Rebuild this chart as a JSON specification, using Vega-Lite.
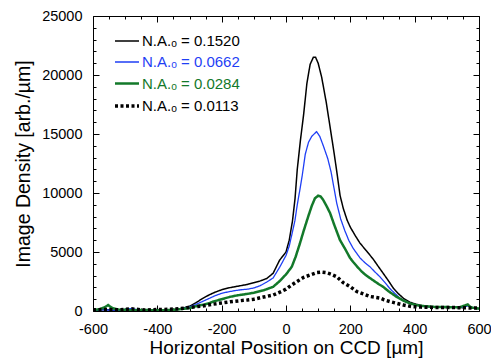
{
  "$schema": "https://vega.github.io/schema/vega-lite/v6.json",
  "width": 386,
  "height": 295,
  "autosize": {"type": "none"},
  "padding": {"left": 93, "top": 16, "right": 12, "bottom": 49},
  "background": "white",
  "config": {
    "font": "Liberation Sans",
    "view": {"stroke": "black", "strokeWidth": 1},
    "axis": {
      "domain": false,
      "grid": false,
      "labelFont": "Liberation Sans",
      "labelFontSize": 14.5,
      "labelColor": "black",
      "titleFont": "Liberation Sans",
      "titleFontWeight": "normal",
      "titleColor": "black",
      "tickColor": "black",
      "labelOverlap": false,
      "labelFlush": false
    },
    "legend": {
      "labelFont": "Liberation Sans",
      "labelFontSize": 15
    }
  },
  "data": {
    "values": [
      {"s": "N.A.ₒ = 0.1520", "x": -600, "y": 50},
      {"s": "N.A.ₒ = 0.1520", "x": -580, "y": 80},
      {"s": "N.A.ₒ = 0.1520", "x": -560, "y": 120},
      {"s": "N.A.ₒ = 0.1520", "x": -540, "y": 60},
      {"s": "N.A.ₒ = 0.1520", "x": -520, "y": 40},
      {"s": "N.A.ₒ = 0.1520", "x": -500, "y": 90},
      {"s": "N.A.ₒ = 0.1520", "x": -480, "y": 60},
      {"s": "N.A.ₒ = 0.1520", "x": -460, "y": 30},
      {"s": "N.A.ₒ = 0.1520", "x": -440, "y": 70},
      {"s": "N.A.ₒ = 0.1520", "x": -420, "y": 50},
      {"s": "N.A.ₒ = 0.1520", "x": -400, "y": 60},
      {"s": "N.A.ₒ = 0.1520", "x": -380, "y": 80},
      {"s": "N.A.ₒ = 0.1520", "x": -360, "y": 100},
      {"s": "N.A.ₒ = 0.1520", "x": -340, "y": 150},
      {"s": "N.A.ₒ = 0.1520", "x": -320, "y": 250},
      {"s": "N.A.ₒ = 0.1520", "x": -300, "y": 400},
      {"s": "N.A.ₒ = 0.1520", "x": -280, "y": 700},
      {"s": "N.A.ₒ = 0.1520", "x": -260, "y": 1050},
      {"s": "N.A.ₒ = 0.1520", "x": -240, "y": 1350},
      {"s": "N.A.ₒ = 0.1520", "x": -220, "y": 1600},
      {"s": "N.A.ₒ = 0.1520", "x": -200, "y": 1800},
      {"s": "N.A.ₒ = 0.1520", "x": -180, "y": 1950},
      {"s": "N.A.ₒ = 0.1520", "x": -160, "y": 2050},
      {"s": "N.A.ₒ = 0.1520", "x": -140, "y": 2150},
      {"s": "N.A.ₒ = 0.1520", "x": -120, "y": 2250},
      {"s": "N.A.ₒ = 0.1520", "x": -100, "y": 2400},
      {"s": "N.A.ₒ = 0.1520", "x": -80, "y": 2550},
      {"s": "N.A.ₒ = 0.1520", "x": -60, "y": 2750},
      {"s": "N.A.ₒ = 0.1520", "x": -40, "y": 3200},
      {"s": "N.A.ₒ = 0.1520", "x": -20, "y": 4300},
      {"s": "N.A.ₒ = 0.1520", "x": 0, "y": 5000},
      {"s": "N.A.ₒ = 0.1520", "x": 10, "y": 6000},
      {"s": "N.A.ₒ = 0.1520", "x": 20, "y": 7600},
      {"s": "N.A.ₒ = 0.1520", "x": 28, "y": 9500},
      {"s": "N.A.ₒ = 0.1520", "x": 35, "y": 12000},
      {"s": "N.A.ₒ = 0.1520", "x": 45, "y": 14500},
      {"s": "N.A.ₒ = 0.1520", "x": 55, "y": 16700},
      {"s": "N.A.ₒ = 0.1520", "x": 65, "y": 19300},
      {"s": "N.A.ₒ = 0.1520", "x": 75, "y": 20900},
      {"s": "N.A.ₒ = 0.1520", "x": 85, "y": 21500},
      {"s": "N.A.ₒ = 0.1520", "x": 92, "y": 21500},
      {"s": "N.A.ₒ = 0.1520", "x": 100, "y": 21000},
      {"s": "N.A.ₒ = 0.1520", "x": 111, "y": 19800},
      {"s": "N.A.ₒ = 0.1520", "x": 125, "y": 17700},
      {"s": "N.A.ₒ = 0.1520", "x": 137, "y": 15600},
      {"s": "N.A.ₒ = 0.1520", "x": 150, "y": 13300},
      {"s": "N.A.ₒ = 0.1520", "x": 160, "y": 11400},
      {"s": "N.A.ₒ = 0.1520", "x": 168, "y": 9800},
      {"s": "N.A.ₒ = 0.1520", "x": 178, "y": 8700},
      {"s": "N.A.ₒ = 0.1520", "x": 190, "y": 7700},
      {"s": "N.A.ₒ = 0.1520", "x": 200, "y": 7100},
      {"s": "N.A.ₒ = 0.1520", "x": 215, "y": 6400},
      {"s": "N.A.ₒ = 0.1520", "x": 230, "y": 5750},
      {"s": "N.A.ₒ = 0.1520", "x": 250, "y": 5100},
      {"s": "N.A.ₒ = 0.1520", "x": 271, "y": 4400},
      {"s": "N.A.ₒ = 0.1520", "x": 285, "y": 3850},
      {"s": "N.A.ₒ = 0.1520", "x": 302, "y": 3200},
      {"s": "N.A.ₒ = 0.1520", "x": 320, "y": 2500},
      {"s": "N.A.ₒ = 0.1520", "x": 334, "y": 1920},
      {"s": "N.A.ₒ = 0.1520", "x": 350, "y": 1450},
      {"s": "N.A.ₒ = 0.1520", "x": 365, "y": 1080},
      {"s": "N.A.ₒ = 0.1520", "x": 385, "y": 750},
      {"s": "N.A.ₒ = 0.1520", "x": 406, "y": 560},
      {"s": "N.A.ₒ = 0.1520", "x": 430, "y": 400},
      {"s": "N.A.ₒ = 0.1520", "x": 460, "y": 330},
      {"s": "N.A.ₒ = 0.1520", "x": 490, "y": 300},
      {"s": "N.A.ₒ = 0.1520", "x": 520, "y": 320},
      {"s": "N.A.ₒ = 0.1520", "x": 550, "y": 280},
      {"s": "N.A.ₒ = 0.1520", "x": 565, "y": 500},
      {"s": "N.A.ₒ = 0.1520", "x": 575, "y": 250},
      {"s": "N.A.ₒ = 0.1520", "x": 600, "y": 200},

      {"s": "N.A.ₒ = 0.0662", "x": -600, "y": 60},
      {"s": "N.A.ₒ = 0.0662", "x": -570, "y": 100},
      {"s": "N.A.ₒ = 0.0662", "x": -540, "y": 70},
      {"s": "N.A.ₒ = 0.0662", "x": -510, "y": 90},
      {"s": "N.A.ₒ = 0.0662", "x": -480, "y": 220},
      {"s": "N.A.ₒ = 0.0662", "x": -460, "y": 80},
      {"s": "N.A.ₒ = 0.0662", "x": -430, "y": 60},
      {"s": "N.A.ₒ = 0.0662", "x": -400, "y": 80},
      {"s": "N.A.ₒ = 0.0662", "x": -370, "y": 90},
      {"s": "N.A.ₒ = 0.0662", "x": -340, "y": 120},
      {"s": "N.A.ₒ = 0.0662", "x": -320, "y": 200},
      {"s": "N.A.ₒ = 0.0662", "x": -300, "y": 350},
      {"s": "N.A.ₒ = 0.0662", "x": -280, "y": 550},
      {"s": "N.A.ₒ = 0.0662", "x": -260, "y": 800},
      {"s": "N.A.ₒ = 0.0662", "x": -240, "y": 1050},
      {"s": "N.A.ₒ = 0.0662", "x": -220, "y": 1300},
      {"s": "N.A.ₒ = 0.0662", "x": -200, "y": 1500},
      {"s": "N.A.ₒ = 0.0662", "x": -180, "y": 1620},
      {"s": "N.A.ₒ = 0.0662", "x": -160, "y": 1720},
      {"s": "N.A.ₒ = 0.0662", "x": -140, "y": 1800},
      {"s": "N.A.ₒ = 0.0662", "x": -120, "y": 1850},
      {"s": "N.A.ₒ = 0.0662", "x": -100, "y": 1950},
      {"s": "N.A.ₒ = 0.0662", "x": -80, "y": 2150},
      {"s": "N.A.ₒ = 0.0662", "x": -60, "y": 2450},
      {"s": "N.A.ₒ = 0.0662", "x": -40, "y": 2800},
      {"s": "N.A.ₒ = 0.0662", "x": -20, "y": 3700},
      {"s": "N.A.ₒ = 0.0662", "x": 0, "y": 4700},
      {"s": "N.A.ₒ = 0.0662", "x": 10, "y": 5500},
      {"s": "N.A.ₒ = 0.0662", "x": 20, "y": 6700},
      {"s": "N.A.ₒ = 0.0662", "x": 28, "y": 7700},
      {"s": "N.A.ₒ = 0.0662", "x": 35, "y": 9000},
      {"s": "N.A.ₒ = 0.0662", "x": 43, "y": 10250},
      {"s": "N.A.ₒ = 0.0662", "x": 50, "y": 11400},
      {"s": "N.A.ₒ = 0.0662", "x": 60, "y": 13300},
      {"s": "N.A.ₒ = 0.0662", "x": 70, "y": 14300},
      {"s": "N.A.ₒ = 0.0662", "x": 80, "y": 14800},
      {"s": "N.A.ₒ = 0.0662", "x": 95, "y": 15200},
      {"s": "N.A.ₒ = 0.0662", "x": 105, "y": 14800},
      {"s": "N.A.ₒ = 0.0662", "x": 116, "y": 14000},
      {"s": "N.A.ₒ = 0.0662", "x": 130, "y": 12900},
      {"s": "N.A.ₒ = 0.0662", "x": 140, "y": 11800},
      {"s": "N.A.ₒ = 0.0662", "x": 150, "y": 10300},
      {"s": "N.A.ₒ = 0.0662", "x": 158, "y": 9100},
      {"s": "N.A.ₒ = 0.0662", "x": 170, "y": 7800},
      {"s": "N.A.ₒ = 0.0662", "x": 183, "y": 6800},
      {"s": "N.A.ₒ = 0.0662", "x": 195, "y": 6000},
      {"s": "N.A.ₒ = 0.0662", "x": 209, "y": 5300},
      {"s": "N.A.ₒ = 0.0662", "x": 230, "y": 4500},
      {"s": "N.A.ₒ = 0.0662", "x": 245, "y": 4100},
      {"s": "N.A.ₒ = 0.0662", "x": 261, "y": 3750},
      {"s": "N.A.ₒ = 0.0662", "x": 275, "y": 3350},
      {"s": "N.A.ₒ = 0.0662", "x": 292, "y": 2900},
      {"s": "N.A.ₒ = 0.0662", "x": 308, "y": 2400},
      {"s": "N.A.ₒ = 0.0662", "x": 323, "y": 1900},
      {"s": "N.A.ₒ = 0.0662", "x": 340, "y": 1450},
      {"s": "N.A.ₒ = 0.0662", "x": 354, "y": 1080},
      {"s": "N.A.ₒ = 0.0662", "x": 375, "y": 750},
      {"s": "N.A.ₒ = 0.0662", "x": 396, "y": 560},
      {"s": "N.A.ₒ = 0.0662", "x": 420, "y": 420},
      {"s": "N.A.ₒ = 0.0662", "x": 450, "y": 350},
      {"s": "N.A.ₒ = 0.0662", "x": 480, "y": 330},
      {"s": "N.A.ₒ = 0.0662", "x": 520, "y": 320},
      {"s": "N.A.ₒ = 0.0662", "x": 550, "y": 300},
      {"s": "N.A.ₒ = 0.0662", "x": 565, "y": 450},
      {"s": "N.A.ₒ = 0.0662", "x": 580, "y": 280},
      {"s": "N.A.ₒ = 0.0662", "x": 600, "y": 200},

      {"s": "N.A.ₒ = 0.0284", "x": -600, "y": 80},
      {"s": "N.A.ₒ = 0.0284", "x": -580, "y": 150},
      {"s": "N.A.ₒ = 0.0284", "x": -565, "y": 300},
      {"s": "N.A.ₒ = 0.0284", "x": -553, "y": 500},
      {"s": "N.A.ₒ = 0.0284", "x": -540, "y": 250},
      {"s": "N.A.ₒ = 0.0284", "x": -520, "y": 120},
      {"s": "N.A.ₒ = 0.0284", "x": -500, "y": 100},
      {"s": "N.A.ₒ = 0.0284", "x": -480, "y": 60},
      {"s": "N.A.ₒ = 0.0284", "x": -450, "y": 90},
      {"s": "N.A.ₒ = 0.0284", "x": -420, "y": 70},
      {"s": "N.A.ₒ = 0.0284", "x": -390, "y": 60},
      {"s": "N.A.ₒ = 0.0284", "x": -360, "y": 80},
      {"s": "N.A.ₒ = 0.0284", "x": -340, "y": 120},
      {"s": "N.A.ₒ = 0.0284", "x": -320, "y": 180},
      {"s": "N.A.ₒ = 0.0284", "x": -300, "y": 250},
      {"s": "N.A.ₒ = 0.0284", "x": -280, "y": 400},
      {"s": "N.A.ₒ = 0.0284", "x": -260, "y": 520},
      {"s": "N.A.ₒ = 0.0284", "x": -240, "y": 650},
      {"s": "N.A.ₒ = 0.0284", "x": -226, "y": 800},
      {"s": "N.A.ₒ = 0.0284", "x": -200, "y": 1000},
      {"s": "N.A.ₒ = 0.0284", "x": -174, "y": 1200},
      {"s": "N.A.ₒ = 0.0284", "x": -150, "y": 1330},
      {"s": "N.A.ₒ = 0.0284", "x": -120, "y": 1450},
      {"s": "N.A.ₒ = 0.0284", "x": -100, "y": 1550},
      {"s": "N.A.ₒ = 0.0284", "x": -70, "y": 1750},
      {"s": "N.A.ₒ = 0.0284", "x": -40, "y": 2050},
      {"s": "N.A.ₒ = 0.0284", "x": -19, "y": 2550},
      {"s": "N.A.ₒ = 0.0284", "x": 0, "y": 3100},
      {"s": "N.A.ₒ = 0.0284", "x": 18, "y": 3750},
      {"s": "N.A.ₒ = 0.0284", "x": 30, "y": 4600},
      {"s": "N.A.ₒ = 0.0284", "x": 43, "y": 5700},
      {"s": "N.A.ₒ = 0.0284", "x": 55, "y": 6800},
      {"s": "N.A.ₒ = 0.0284", "x": 69, "y": 8000},
      {"s": "N.A.ₒ = 0.0284", "x": 80, "y": 8900},
      {"s": "N.A.ₒ = 0.0284", "x": 90, "y": 9550},
      {"s": "N.A.ₒ = 0.0284", "x": 100, "y": 9770},
      {"s": "N.A.ₒ = 0.0284", "x": 108, "y": 9700},
      {"s": "N.A.ₒ = 0.0284", "x": 116, "y": 9400},
      {"s": "N.A.ₒ = 0.0284", "x": 126, "y": 8900},
      {"s": "N.A.ₒ = 0.0284", "x": 137, "y": 8300},
      {"s": "N.A.ₒ = 0.0284", "x": 150, "y": 7300},
      {"s": "N.A.ₒ = 0.0284", "x": 168, "y": 6000},
      {"s": "N.A.ₒ = 0.0284", "x": 183, "y": 5300},
      {"s": "N.A.ₒ = 0.0284", "x": 199, "y": 4500},
      {"s": "N.A.ₒ = 0.0284", "x": 209, "y": 4150},
      {"s": "N.A.ₒ = 0.0284", "x": 220, "y": 3800},
      {"s": "N.A.ₒ = 0.0284", "x": 235, "y": 3350},
      {"s": "N.A.ₒ = 0.0284", "x": 250, "y": 3000},
      {"s": "N.A.ₒ = 0.0284", "x": 271, "y": 2600},
      {"s": "N.A.ₒ = 0.0284", "x": 290, "y": 2250},
      {"s": "N.A.ₒ = 0.0284", "x": 302, "y": 2050},
      {"s": "N.A.ₒ = 0.0284", "x": 320, "y": 1650},
      {"s": "N.A.ₒ = 0.0284", "x": 344, "y": 1200},
      {"s": "N.A.ₒ = 0.0284", "x": 365, "y": 880},
      {"s": "N.A.ₒ = 0.0284", "x": 385, "y": 650},
      {"s": "N.A.ₒ = 0.0284", "x": 405, "y": 500},
      {"s": "N.A.ₒ = 0.0284", "x": 427, "y": 420},
      {"s": "N.A.ₒ = 0.0284", "x": 460, "y": 350},
      {"s": "N.A.ₒ = 0.0284", "x": 500, "y": 330},
      {"s": "N.A.ₒ = 0.0284", "x": 540, "y": 320},
      {"s": "N.A.ₒ = 0.0284", "x": 565, "y": 550},
      {"s": "N.A.ₒ = 0.0284", "x": 575, "y": 300},
      {"s": "N.A.ₒ = 0.0284", "x": 600, "y": 200},

      {"s": "N.A.ₒ = 0.0113", "x": -600, "y": 100},
      {"s": "N.A.ₒ = 0.0113", "x": -560, "y": 130},
      {"s": "N.A.ₒ = 0.0113", "x": -520, "y": 100},
      {"s": "N.A.ₒ = 0.0113", "x": -480, "y": 180},
      {"s": "N.A.ₒ = 0.0113", "x": -440, "y": 80},
      {"s": "N.A.ₒ = 0.0113", "x": -400, "y": 120},
      {"s": "N.A.ₒ = 0.0113", "x": -360, "y": 150},
      {"s": "N.A.ₒ = 0.0113", "x": -330, "y": 200},
      {"s": "N.A.ₒ = 0.0113", "x": -300, "y": 300},
      {"s": "N.A.ₒ = 0.0113", "x": -260, "y": 420},
      {"s": "N.A.ₒ = 0.0113", "x": -226, "y": 580},
      {"s": "N.A.ₒ = 0.0113", "x": -200, "y": 680},
      {"s": "N.A.ₒ = 0.0113", "x": -174, "y": 780},
      {"s": "N.A.ₒ = 0.0113", "x": -140, "y": 880},
      {"s": "N.A.ₒ = 0.0113", "x": -120, "y": 930},
      {"s": "N.A.ₒ = 0.0113", "x": -100, "y": 1000},
      {"s": "N.A.ₒ = 0.0113", "x": -70, "y": 1180},
      {"s": "N.A.ₒ = 0.0113", "x": -40, "y": 1350},
      {"s": "N.A.ₒ = 0.0113", "x": -19, "y": 1600},
      {"s": "N.A.ₒ = 0.0113", "x": 0, "y": 1850},
      {"s": "N.A.ₒ = 0.0113", "x": 15, "y": 2150},
      {"s": "N.A.ₒ = 0.0113", "x": 33, "y": 2480},
      {"s": "N.A.ₒ = 0.0113", "x": 55, "y": 2850},
      {"s": "N.A.ₒ = 0.0113", "x": 75, "y": 3050},
      {"s": "N.A.ₒ = 0.0113", "x": 95, "y": 3250},
      {"s": "N.A.ₒ = 0.0113", "x": 110, "y": 3300},
      {"s": "N.A.ₒ = 0.0113", "x": 126, "y": 3250},
      {"s": "N.A.ₒ = 0.0113", "x": 140, "y": 3120},
      {"s": "N.A.ₒ = 0.0113", "x": 158, "y": 2900},
      {"s": "N.A.ₒ = 0.0113", "x": 178, "y": 2400},
      {"s": "N.A.ₒ = 0.0113", "x": 200, "y": 2050},
      {"s": "N.A.ₒ = 0.0113", "x": 220, "y": 1650},
      {"s": "N.A.ₒ = 0.0113", "x": 240, "y": 1450},
      {"s": "N.A.ₒ = 0.0113", "x": 261, "y": 1230},
      {"s": "N.A.ₒ = 0.0113", "x": 280, "y": 1150},
      {"s": "N.A.ₒ = 0.0113", "x": 292, "y": 1100},
      {"s": "N.A.ₒ = 0.0113", "x": 305, "y": 950},
      {"s": "N.A.ₒ = 0.0113", "x": 323, "y": 800},
      {"s": "N.A.ₒ = 0.0113", "x": 345, "y": 650},
      {"s": "N.A.ₒ = 0.0113", "x": 365, "y": 510},
      {"s": "N.A.ₒ = 0.0113", "x": 390, "y": 380},
      {"s": "N.A.ₒ = 0.0113", "x": 420, "y": 330},
      {"s": "N.A.ₒ = 0.0113", "x": 460, "y": 300},
      {"s": "N.A.ₒ = 0.0113", "x": 500, "y": 300},
      {"s": "N.A.ₒ = 0.0113", "x": 540, "y": 280},
      {"s": "N.A.ₒ = 0.0113", "x": 580, "y": 250},
      {"s": "N.A.ₒ = 0.0113", "x": 600, "y": 250}
    ]
  },
  "layer": [
    {
      "mark": {"type": "line", "clip": true},
      "encoding": {
        "x": {
          "field": "x", "type": "quantitative",
          "scale": {"domain": [-600, 600], "nice": false, "zero": false},
          "axis": {
            "title": "Horizontal Position on CCD [µm]",
            "titleFontSize": 19,
            "values": [-600,-550,-500,-450,-400,-350,-300,-250,-200,-150,-100,-50,0,50,100,150,200,250,300,350,400,450,500,550,600],
            "labelExpr": "datum.value % 200 == 0 ? '' + datum.value : ''",
            "tickSize": {"condition": {"test": "datum.value % 200 == 0", "value": -6}, "value": -3},
            "labelPadding": 17,
            "titlePadding": 0
          }
        },
        "y": {
          "field": "y", "type": "quantitative",
          "scale": {"domain": [0, 25000], "nice": false},
          "axis": {
            "title": "Image Density [arb./µm]",
            "titleFontSize": 19.5,
            "values": [0,1000,2000,3000,4000,5000,6000,7000,8000,9000,10000,11000,12000,13000,14000,15000,16000,17000,18000,19000,20000,21000,22000,23000,24000,25000],
            "labelExpr": "datum.value % 5000 == 0 ? '' + datum.value : ''",
            "tickSize": {"condition": {"test": "datum.value % 5000 == 0", "value": -6}, "value": -3},
            "labelPadding": 17,
            "titlePadding": 8
          }
        },
        "color": {
          "field": "s", "type": "nominal",
          "scale": {
            "domain": ["N.A.ₒ = 0.1520", "N.A.ₒ = 0.0662", "N.A.ₒ = 0.0284", "N.A.ₒ = 0.0113"],
            "range": ["#000000", "#1f3ff5", "#13792a", "#000000"]
          },
          "legend": {
            "title": null,
            "orient": "none",
            "legendX": 20,
            "legendY": 12,
            "symbolType": "stroke",
            "symbolSize": 576,
            "labelOffset": 1,
            "rowPadding": -3,
            "padding": 0,
            "encode": {"labels": {"update": {"fill": {"scale": "color", "field": "value"}}}}
          }
        },
        "strokeDash": {
          "field": "s", "type": "nominal",
          "scale": {
            "domain": ["N.A.ₒ = 0.1520", "N.A.ₒ = 0.0662", "N.A.ₒ = 0.0284", "N.A.ₒ = 0.0113"],
            "range": [[1, 0], [1, 0], [1, 0], [3, 2.5]]
          },
          "legend": {"title": null}
        },
        "strokeWidth": {
          "field": "s", "type": "nominal",
          "scale": {
            "type": "ordinal",
            "domain": ["N.A.ₒ = 0.1520", "N.A.ₒ = 0.0662", "N.A.ₒ = 0.0284", "N.A.ₒ = 0.0113"],
            "range": [1.5, 1.3, 2.5, 3.5]
          },
          "legend": {"title": null}
        },
        "order": {"field": "x", "type": "quantitative"}
      }
    },
    {
      "mark": {"type": "line", "strokeOpacity": 0},
      "encoding": {
        "x": {
          "field": "x", "type": "quantitative",
          "axis": {
            "orient": "top", "title": null, "labels": false,
            "values": [-600,-550,-500,-450,-400,-350,-300,-250,-200,-150,-100,-50,0,50,100,150,200,250,300,350,400,450,500,550,600],
            "tickSize": {"condition": {"test": "datum.value % 200 == 0", "value": -6}, "value": -3}
          }
        },
        "y": {
          "field": "y", "type": "quantitative",
          "axis": {
            "orient": "right", "title": null, "labels": false,
            "values": [0,1000,2000,3000,4000,5000,6000,7000,8000,9000,10000,11000,12000,13000,14000,15000,16000,17000,18000,19000,20000,21000,22000,23000,24000,25000],
            "tickSize": {"condition": {"test": "datum.value % 5000 == 0", "value": -6}, "value": -3}
          }
        },
        "order": {"field": "x", "type": "quantitative"}
      }
    }
  ],
  "resolve": {"axis": {"x": "independent", "y": "independent"}}
}
